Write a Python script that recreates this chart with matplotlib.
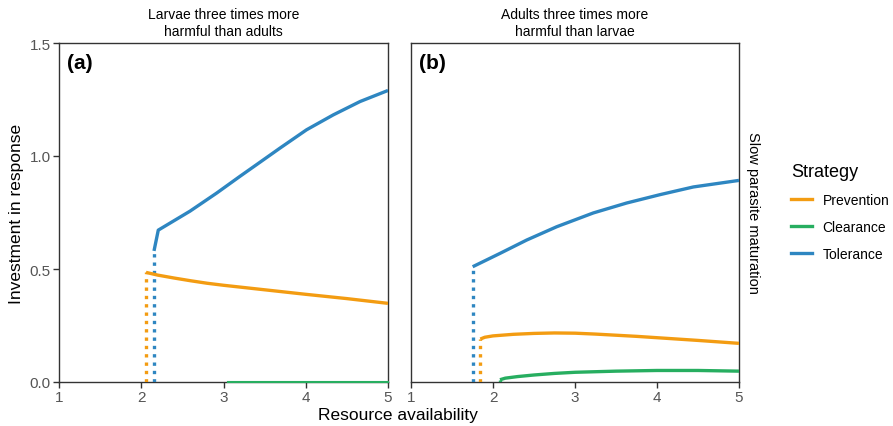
import matplotlib.pyplot as plt
from matplotlib.lines import Line2D

plt.rcParams["font.family"] = ["Liberation Sans", "DejaVu Sans"]

ORANGE = "#F39C12"
GREEN = "#27AE60"
BLUE = "#2E86C1"

# panel (a): larvae three times more harmful
a_tol_x = [2.155, 2.207, 2.593, 2.917, 3.2, 3.403, 3.687, 4.01, 4.335, 4.66, 5.0]
a_tol_y = [0.58, 0.672, 0.756, 0.836, 0.91, 0.962, 1.035, 1.116, 1.182, 1.241, 1.29]
a_tol_drop = [0.0, 0.58]
a_prev_x = [2.058, 2.2, 2.4, 2.6, 2.8, 3.0, 3.5, 4.0, 4.5, 5.0]
a_prev_y = [0.485, 0.473, 0.46, 0.448, 0.437, 0.428, 0.408, 0.388, 0.369, 0.348]
a_prev_drop = [0.0, 0.485]
a_clr_x = [3.06, 5.0]
a_clr_y = [0.0, 0.0]

# panel (b): adults three times more harmful
b_tol_x = [1.752, 2.085, 2.41, 2.777, 3.223, 3.63, 4.037, 4.443, 5.0]
b_tol_y = [0.51, 0.569, 0.628, 0.687, 0.748, 0.792, 0.829, 0.863, 0.892]
b_tol_drop = [0.0, 0.51]
b_prev_x = [1.845, 1.9, 2.0, 2.25, 2.5, 2.75, 3.0, 3.25, 3.5, 3.75, 4.0, 4.5, 5.0]
b_prev_y = [0.19, 0.198, 0.204, 0.211, 0.215, 0.217, 0.216, 0.212, 0.207, 0.202, 0.196,
            0.184, 0.171]
b_prev_drop = [0.0, 0.19]
b_clr_x = [2.085, 2.15, 2.3, 2.5, 2.75, 3.0, 3.5, 4.0, 4.5, 5.0]
b_clr_y = [0.01, 0.017, 0.024, 0.031, 0.038, 0.043, 0.048, 0.051, 0.051, 0.048]
b_clr_drop = [0.0, 0.01]

titles = ["Larvae three times more\nharmful than adults",
          "Adults three times more\nharmful than larvae"]
labels = ["(a)", "(b)"]
x_ticks = [1, 2, 3, 4, 5]
y_ticks = [0.0, 0.5, 1.0, 1.5]

LW = 2.4
fig = plt.figure(figsize=(8.93, 4.27), dpi=100)
ax_a = fig.add_axes([59 / 893, 44 / 427, 329 / 893, 339 / 427])
ax_b = fig.add_axes([411 / 893, 44 / 427, 328 / 893, 339 / 427])


def solid(ax, x, y, c, **kw):
    ax.plot(x, y, color=c, lw=LW, solid_capstyle="butt", zorder=3, **kw)


def dotted(ax, x0, ys, c):
    ax.plot([x0, x0], ys, color=c, lw=LW, linestyle=(0, (1, 1.5)),
            dash_capstyle="butt", zorder=3)


solid(ax_a, a_tol_x, a_tol_y, BLUE)
dotted(ax_a, a_tol_x[0], a_tol_drop, BLUE)
solid(ax_a, a_prev_x, a_prev_y, ORANGE)
dotted(ax_a, a_prev_x[0], a_prev_drop, ORANGE)
# clearance sits on the axis line in panel (a)
ax_a.plot(a_clr_x, a_clr_y, color=GREEN, lw=1.5, zorder=3, clip_on=False)

solid(ax_b, b_tol_x, b_tol_y, BLUE)
dotted(ax_b, b_tol_x[0], b_tol_drop, BLUE)
solid(ax_b, b_prev_x, b_prev_y, ORANGE)
dotted(ax_b, b_prev_x[0], b_prev_drop, ORANGE)
solid(ax_b, b_clr_x, b_clr_y, GREEN)
dotted(ax_b, b_clr_x[0], b_clr_drop, GREEN)

for ax, t, lab in zip([ax_a, ax_b], titles, labels):
    ax.set_xlim(1, 5)
    ax.set_ylim(0, 1.5)
    ax.set_xticks(x_ticks)
    ax.set_yticks(y_ticks)
    ax.set_title(t, fontsize=10, pad=6)
    ax.text(0.025, 0.97, lab, transform=ax.transAxes, fontsize=15,
            fontweight="bold", va="top", ha="left")
    for s in ax.spines.values():
        s.set_color("#333333")
        s.set_linewidth(1.0)
    ax.tick_params(colors="#333333", labelcolor="#555555", labelsize=11,
                   length=4, width=1, pad=2)

ax_a.set_yticklabels(["0.0", "0.5", "1.0", "1.5"])
ax_a.set_ylabel("Investment in response", fontsize=12.5)
ax_b.tick_params(axis="y", left=False, labelleft=False)

fig.text(398 / 893, 1 - 416 / 427, "Resource availability", fontsize=12.5,
         ha="center", va="center")
fig.text(753 / 893, 1 - 213 / 427, "Slow parasite maturation", fontsize=10.5,
         rotation=-90, ha="center", va="center")

handles = [Line2D([], [], color=c, lw=LW) for c in [ORANGE, GREEN, BLUE]]
leg = fig.legend(handles, ["Prevention", "Clearance", "Tolerance"],
                 title="Strategy", loc="upper left",
                 bbox_to_anchor=(781 / 893, 1 - 154 / 427), frameon=False,
                 fontsize=10, title_fontsize=13, handlelength=1.5,
                 labelspacing=0.95, handletextpad=0.8, borderpad=0.2)
leg._legend_box.align = "left"

fig.savefig("out.png", dpi=100)
